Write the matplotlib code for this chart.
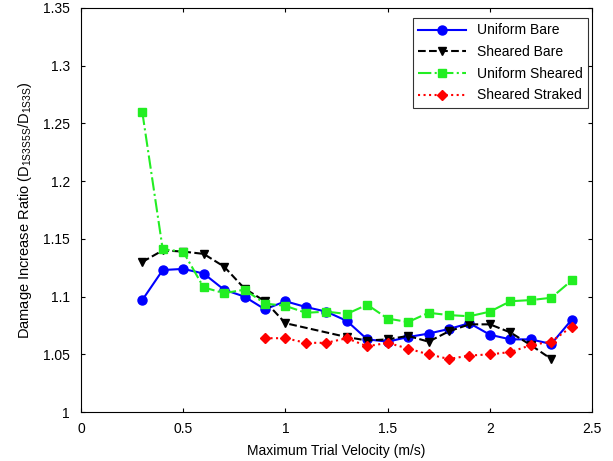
import numpy as np
import matplotlib
matplotlib.use("Agg")
import matplotlib.pyplot as plt

plt.rcParams['font.family'] = ['Liberation Sans', 'DejaVu Sans']
plt.rcParams['mathtext.fontset'] = 'custom'
plt.rcParams['mathtext.rm'] = 'Liberation Sans'

# data
x_uniform_bare = [0.3, 0.4, 0.5, 0.6, 0.7, 0.8, 0.9, 1.0, 1.1, 1.2, 1.3,
                  1.4, 1.5, 1.6, 1.7, 1.8, 1.9, 2.0, 2.1, 2.2, 2.3, 2.4]
uniform_bare = [1.097, 1.123, 1.124, 1.120, 1.106, 1.100, 1.089, 1.096, 1.091, 1.087, 1.079,
                1.063, 1.061, 1.065, 1.068, 1.072, 1.077, 1.067, 1.063, 1.063, 1.059, 1.080]

x_sheared_bare = [0.3, 0.4, 0.5, 0.6, 0.7, 0.8, 0.9, 1.0, 1.3,
                  1.4, 1.5, 1.6, 1.7, 1.8, 1.9, 2.0, 2.1, 2.2, 2.3]
sheared_bare = [1.130, 1.140, 1.139, 1.137, 1.126, 1.107, 1.096, 1.077, 1.065,
                1.062, 1.063, 1.066, 1.061, 1.070, 1.076, 1.076, 1.069, 1.058, 1.046]

x_uniform_sheared = [0.3, 0.4, 0.5, 0.6, 0.7, 0.8, 0.9, 1.0, 1.1, 1.2, 1.3,
                     1.4, 1.5, 1.6, 1.7, 1.8, 1.9, 2.0, 2.1, 2.2, 2.3, 2.4]
uniform_sheared = [1.260, 1.141, 1.139, 1.108, 1.103, 1.106, 1.094, 1.092, 1.086, 1.087, 1.085,
                   1.093, 1.081, 1.078, 1.086, 1.084, 1.083, 1.087, 1.096, 1.097, 1.099, 1.114]

x_sheared_straked = [0.9, 1.0, 1.1, 1.2, 1.3, 1.4, 1.5, 1.6, 1.7, 1.8, 1.9, 2.0, 2.1, 2.2, 2.3, 2.4]
sheared_straked = [1.064, 1.064, 1.060, 1.060, 1.064, 1.057, 1.060, 1.055, 1.050, 1.046, 1.049,
                   1.050, 1.052, 1.058, 1.061, 1.074]

fig = plt.figure(figsize=(6.13, 4.61), dpi=100)
ax = fig.add_axes([0.132, 0.106, 0.834, 0.877])

ax.plot(x_uniform_bare, uniform_bare, '-o', color='blue', lw=1.5, ms=6.5, label='Uniform Bare')
ax.plot(x_sheared_bare, sheared_bare, '--v', color='black', lw=1.5, ms=6, label='Sheared Bare')
ax.plot(x_uniform_sheared, uniform_sheared, '-.s', color='#22ee22', lw=1.5, ms=6, label='Uniform Sheared')
ax.plot(x_sheared_straked, sheared_straked, ':D', color='red', lw=1.5, ms=5, label='Sheared Straked')

ax.set_xlim(0, 2.5)
ax.set_ylim(1, 1.35)
ax.set_xticks(np.arange(0, 2.51, 0.5))
ax.set_xticklabels(['0', '0.5', '1', '1.5', '2', '2.5'])
ax.set_yticks(np.arange(1, 1.351, 0.05))
ax.set_yticklabels(['1', '1.05', '1.1', '1.15', '1.2', '1.25', '1.3', '1.35'])
ax.tick_params(direction='in', top=True, right=True, labelsize=10, length=3)
ax.tick_params(axis='x', pad=7)
ax.tick_params(axis='y', pad=8)

ax.set_xlabel('Maximum Trial Velocity (m/s)', fontsize=10, labelpad=6)
ax.set_ylabel(r'Damage Increase Ratio (D$_{\mathrm{1S3S5S}}$/D$_{\mathrm{1S3S}}$)', fontsize=10.5, labelpad=6)

leg = ax.legend(loc='upper right', bbox_to_anchor=(0.992, 0.975), borderaxespad=0,
                fontsize=10, fancybox=False, edgecolor='black',
                handlelength=3.4, labelspacing=0.55)
leg.get_frame().set_linewidth(0.8)

fig.savefig('out.png', dpi=100)
